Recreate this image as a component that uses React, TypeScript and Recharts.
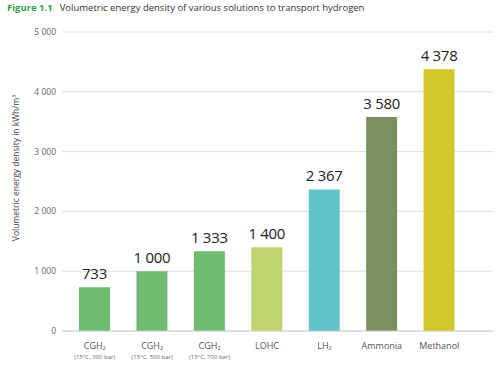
import { Bar, BarChart, CartesianGrid, Cell, LabelList, XAxis, YAxis } from 'recharts';

const categories = ['CGH\u2082', 'CGH\u2082', 'CGH\u2082', 'LOHC', 'LH\u2082', 'Ammonia', 'Methanol'];
const subLabels = ['(15\u00b0C, 300 bar)', '(15\u00b0C, 500 bar)', '(15\u00b0C, 700 bar)', '', '', '', ''];
const densities = [733, 1000, 1333, 1400, 2367, 3580, 4378];
const barColors = ['#6fbb70', '#6fbb70', '#6fbb70', '#bdd46f', '#5fc3c9', '#7b9062', '#d1c62b'];
const yTicks = [0, 1000, 2000, 3000, 4000, 5000];

const data = categories.map((name, i) => ({
  id: i,
  name,
  sub: subLabels[i],
  value: densities[i],
}));

const font = '"Open Sans", sans-serif';

const fmt = (v: number) => (v >= 1000 ? String(v).replace(/\B(?=(\d{3})+(?!\d))/g, ' ') : String(v));

function CategoryTick(props: any) {
  const { x, y, payload } = props;
  const row = data[payload.value];
  return (
    <g>
      <text x={x} y={y + 10} textAnchor="middle" fontSize={9} fill="#555" fontFamily={font}>
        {row.name}
      </text>
      {row.sub && (
        <text x={x} y={y + 20} textAnchor="middle" fontSize={6} fill="#666" fontFamily={font}>
          {row.sub}
        </text>
      )}
    </g>
  );
}

function ValueLabel(props: any) {
  const { x, y, width, value } = props;
  return (
    <text
      x={x + width / 2}
      y={y - 8}
      textAnchor="middle"
      fontSize={15}
      fill="#222"
      fontFamily={font}
      letterSpacing={-0.3}
    >
      {fmt(Number(value))}
    </text>
  );
}

export default function App() {
  return (
    <div style={{ position: 'absolute', left: 0, top: 0, width: 499, height: 368, background: '#fff' }}>
      <div
        style={{
          position: 'absolute',
          left: 7,
          top: 1,
          fontFamily: font,
          fontSize: 9.5,
          color: '#333',
          whiteSpace: 'nowrap',
        }}
      >
        <span style={{ color: '#2e9e4e', fontWeight: 700, marginRight: 7 }}>Figure 1.1</span>
        Volumetric energy density of various solutions to transport hydrogen
      </div>
      <div
        style={{
          position: 'absolute',
          left: 15,
          top: 168,
          transform: 'translate(-50%, -50%) rotate(-90deg)',
          fontFamily: font,
          fontSize: 8.5,
          color: '#444',
          whiteSpace: 'nowrap',
        }}
      >
        Volumetric energy density in kWh/m³
      </div>
      <BarChart
        width={499}
        height={368}
        data={data}
        margin={{ top: 32, right: 6, bottom: 7, left: 0 }}
        barSize={31}
      >
        <CartesianGrid vertical={false} stroke="#dedede" />
        <XAxis
          dataKey="id"
          tick={<CategoryTick />}
          tickLine={false}
          axisLine={{ stroke: '#cfcfcf' }}
          interval={0}
          padding={{ left: 4, right: 25 }}
          height={30}
        />
        <YAxis
          domain={[0, 5000]}
          ticks={yTicks}
          tickFormatter={fmt}
          tickLine={false}
          axisLine={false}
          width={62}
          tickMargin={0}
          tick={{ fontSize: 8.5, fill: '#666', fontFamily: font }}
        />
        <Bar dataKey="value" isAnimationActive={false}>
          {data.map((d, i) => (
            <Cell key={d.id} fill={barColors[i]} />
          ))}
          <LabelList dataKey="value" content={<ValueLabel />} />
        </Bar>
      </BarChart>
    </div>
  );
}
